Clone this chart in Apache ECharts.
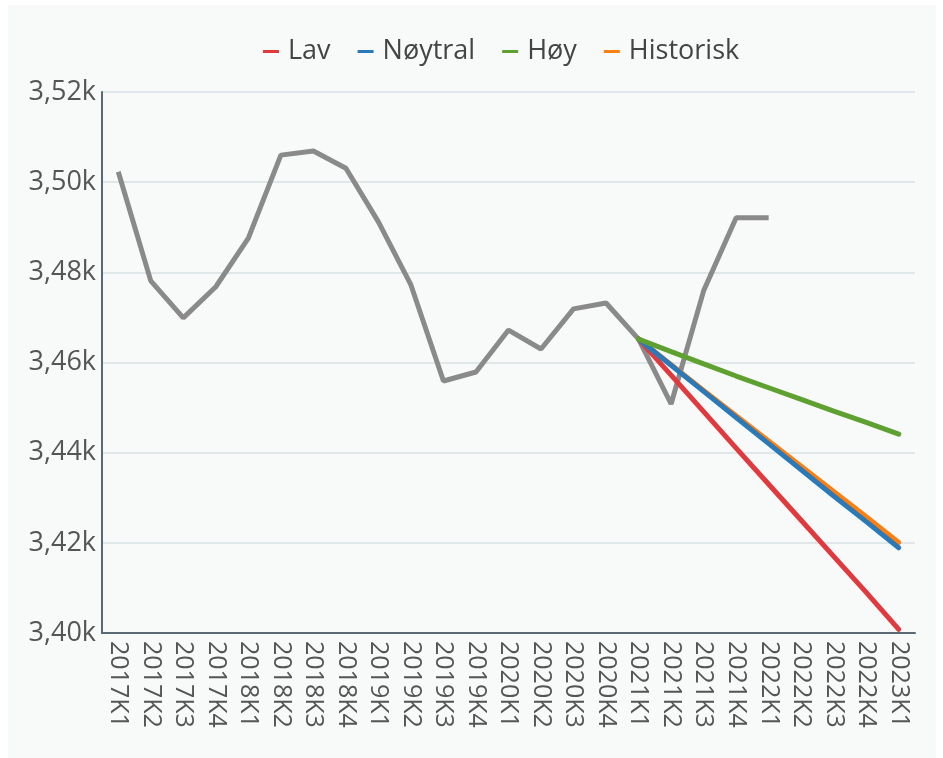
<!DOCTYPE html>
<html>
<head>
<meta charset="utf-8">
<style>
  html, body { margin: 0; padding: 0; background: #ffffff; }
  #chart { position: absolute; left: 8px; top: 5px; width: 928px; height: 753px; background: #f8f9f9; }
</style>
<script src="https://cdn.jsdelivr.net/npm/echarts@6/dist/echarts.min.js"></script>
</head>
<body>
<div id="chart"></div>
<script>
// kvartaler
var categories = [
  '2017K1', '2017K2', '2017K3', '2017K4',
  '2018K1', '2018K2', '2018K3', '2018K4',
  '2019K1', '2019K2', '2019K3', '2019K4',
  '2020K1', '2020K2', '2020K3', '2020K4',
  '2021K1', '2021K2', '2021K3', '2021K4',
  '2022K1', '2022K2', '2022K3', '2022K4',
  '2023K1'
];

// faktisk utvikling (grå linje)
var faktisk = [
  3502.3, 3478.1, 3469.9, 3476.8,
  3487.6, 3506.0, 3506.9, 3503.1,
  3491.2, 3477.2, 3455.9, 3457.9,
  3467.2, 3463.0, 3471.9, 3473.2,
  3465.2, 3450.8, 3475.9, 3492.1,
  3492.1
];

// framskrivinger fra 2021K1
var lav = [3465.2, 3457.2, 3449.1, 3441.0, 3433.0, 3425.0, 3417.0, 3409.0, 3400.8];
var noytral = [3465.2, 3459.4, 3453.6, 3447.8, 3442.0, 3436.2, 3430.4, 3424.7, 3418.9];
var hoy = [3465.2, 3462.4, 3459.7, 3457.0, 3454.4, 3451.8, 3449.2, 3446.7, 3444.1];
var historisk = [3465.2, 3459.5, 3453.8, 3448.2, 3442.6, 3437.0, 3431.4, 3425.8, 3420.1];

var yTicks = { min: 3400, max: 3520, step: 20 };

function pad(arr) {
  // plasser framskrivingen fra 2021K1
  var start = categories.indexOf('2021K1');
  var out = [];
  for (var i = 0; i < start; i++) out.push('-');
  return out.concat(arr);
}

var chart = echarts.init(document.getElementById('chart'));

chart.setOption({
  animation: false,
  textStyle: { fontFamily: 'Open Sans' },
  legend: {
    top: 28,
    left: 250,
    itemWidth: 16,
    itemHeight: 3,
    itemGap: 27,
    icon: 'rect',
    textStyle: { fontSize: 27, color: '#444', fontFamily: 'Open Sans', padding: [0, 0, 0, 4] },
    data: ['Lav', 'Nøytral', 'Høy', 'Historisk']
  },
  grid: {
    left: 94,
    right: 21,
    top: 87,
    bottom: 125
  },
  xAxis: {
    type: 'category',
    data: categories,
    boundaryGap: true,
    axisLine: { lineStyle: { color: '#5a6a72', width: 2 } },
    axisTick: { show: false },
    axisLabel: {
      rotate: -90,
      fontSize: 25,
      color: '#555',
      margin: 8,
      interval: 0
    }
  },
  yAxis: {
    type: 'value',
    min: yTicks.min,
    max: yTicks.max,
    interval: yTicks.step,
    axisLine: { show: true, lineStyle: { color: '#5a6a72', width: 2 } },
    axisTick: { show: false },
    splitLine: { lineStyle: { color: '#dfe7e9', width: 2 } },
    axisLabel: {
      fontSize: 27,
      color: '#555',
      margin: 6,
      formatter: function (v) {
        return (v / 1000).toFixed(2).replace('.', ',') + 'k';
      }
    }
  },
  series: [
    {
      name: 'Faktisk',
      type: 'line',
      data: faktisk,
      showSymbol: false,
      z: 1,
      lineStyle: { color: '#8a8a8a', width: 5 },
      itemStyle: { color: '#8a8a8a' }
    },
    {
      name: 'Lav',
      type: 'line',
      data: pad(lav),
      showSymbol: false,
      z: 2,
      itemStyle: { color: '#e03a3e' },
      lineStyle: { color: '#e03a3e', width: 5, cap: 'round' }
    },
    {
      name: 'Historisk',
      type: 'line',
      data: pad(historisk),
      showSymbol: false,
      z: 2,
      itemStyle: { color: '#ff7f0e' },
      lineStyle: { color: '#ff7f0e', width: 5, cap: 'round' }
    },
    {
      name: 'Nøytral',
      type: 'line',
      data: pad(noytral),
      showSymbol: false,
      z: 3,
      itemStyle: { color: '#2a7ab9' },
      lineStyle: { color: '#2a7ab9', width: 5, cap: 'round' }
    },
    {
      name: 'Høy',
      type: 'line',
      data: pad(hoy),
      showSymbol: false,
      z: 3,
      itemStyle: { color: '#5fa130' },
      lineStyle: { color: '#5fa130', width: 5, cap: 'round' }
    }
  ]
});
</script>
</body>
</html>
